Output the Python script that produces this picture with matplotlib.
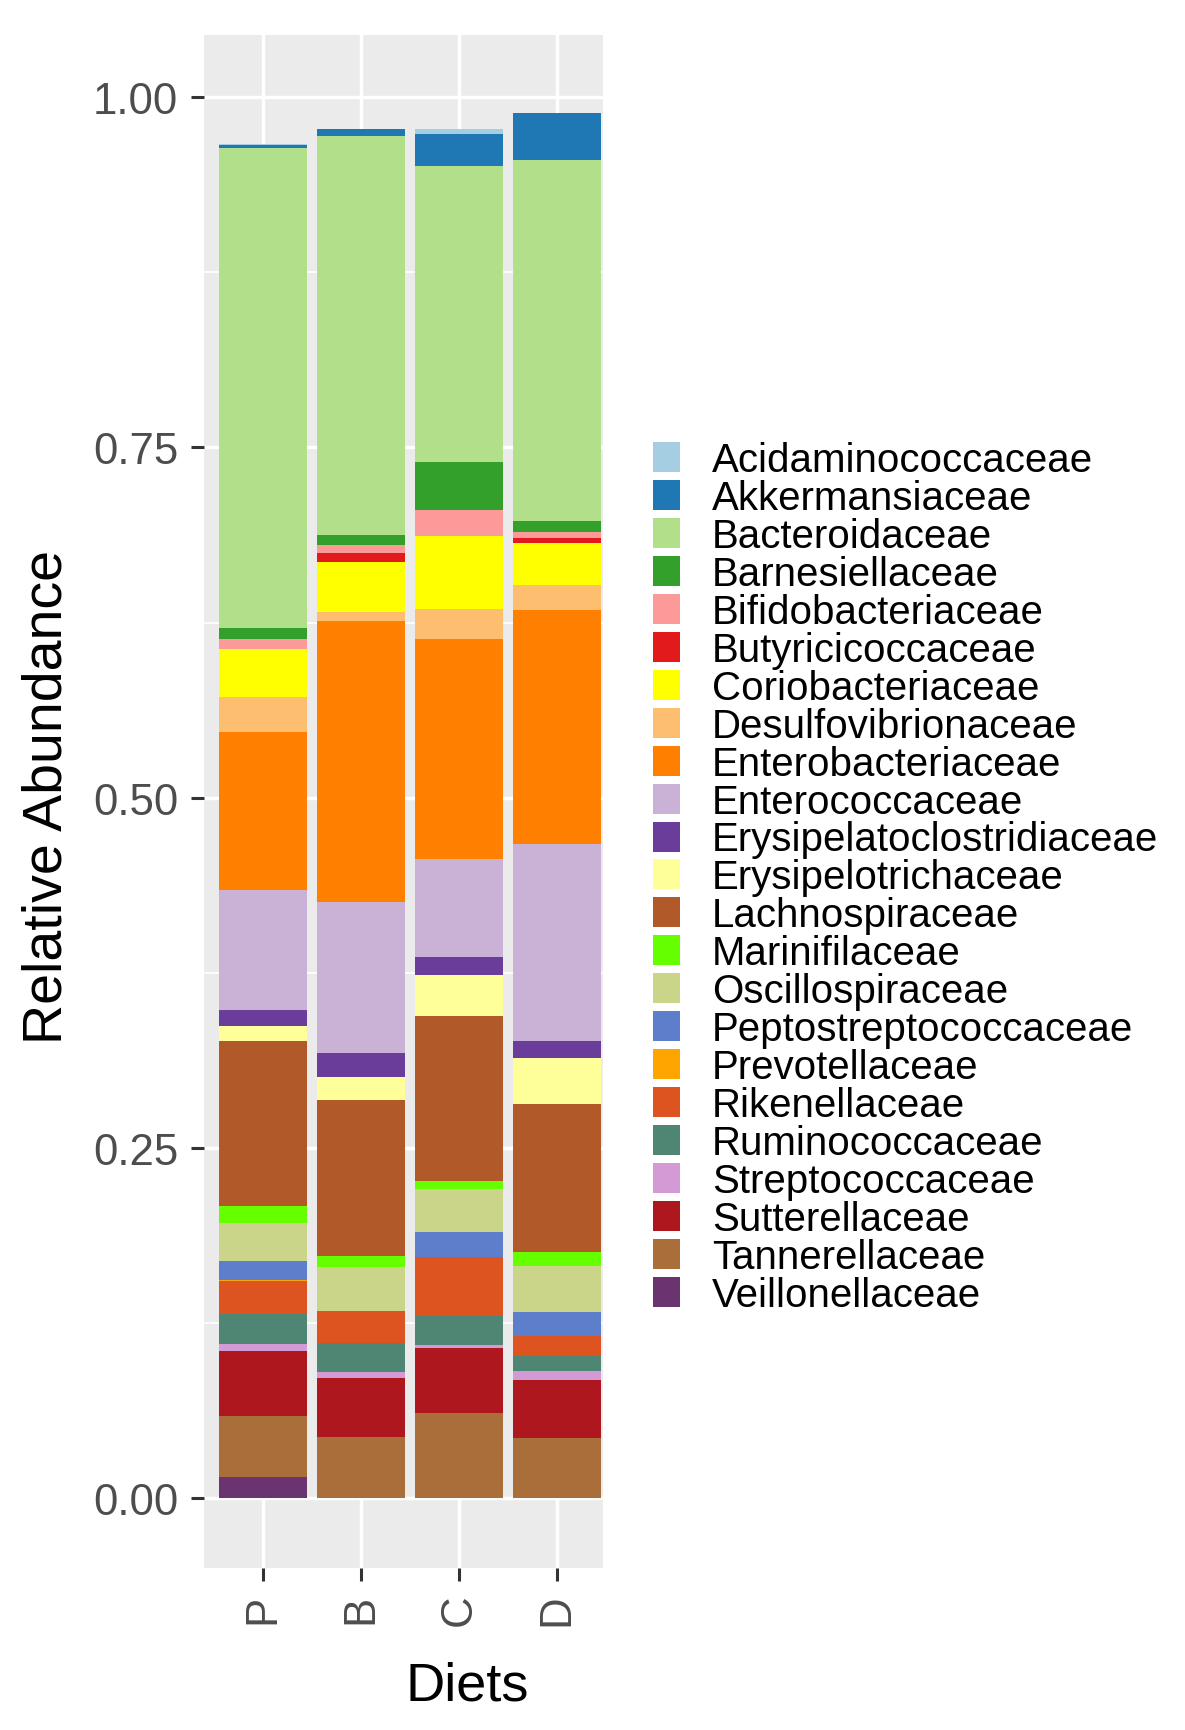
import matplotlib
matplotlib.use("Agg")
import matplotlib.pyplot as plt
from matplotlib.patches import Rectangle
import numpy as np

plt.rcParams['font.family'] = ['Liberation Sans', 'DejaVu Sans']

diets = ["P", "B", "C", "D"]

families = [
    "Acidaminococcaceae", "Akkermansiaceae", "Bacteroidaceae", "Barnesiellaceae",
    "Bifidobacteriaceae", "Butyricicoccaceae", "Coriobacteriaceae", "Desulfovibrionaceae",
    "Enterobacteriaceae", "Enterococcaceae", "Erysipelatoclostridiaceae", "Erysipelotrichaceae",
    "Lachnospiraceae", "Marinifilaceae", "Oscillospiraceae", "Peptostreptococcaceae",
    "Prevotellaceae", "Rikenellaceae", "Ruminococcaceae", "Streptococcaceae",
    "Sutterellaceae", "Tannerellaceae", "Veillonellaceae",
]

colors = [
    "#A6CEE3", "#1F78B4", "#B2DF8A", "#33A02C",
    "#FB9A99", "#E31A1C", "#FFFF00", "#FDBF6F",
    "#FF7F00", "#CAB2D6", "#6A3D9A", "#FFFF99",
    "#B15928", "#66FF00", "#CAD589", "#5C7ECB",
    "#FFA500", "#DE5421", "#4E8673", "#D49AD6",
    "#AE171E", "#AA6E3A", "#6A3470",
]

# relative abundance per diet, same order as families
p_vals = [0.0005, 0.0022, 0.3423, 0.0083, 0.0072, 0.0, 0.0340, 0.0250,
          0.1130, 0.0855, 0.0112, 0.0110, 0.1175, 0.0119, 0.0276, 0.0135,
          0.0004, 0.0238, 0.0214, 0.0048, 0.0468, 0.0431, 0.0154]
b_vals = [0.0, 0.0055, 0.2847, 0.0069, 0.0059, 0.0062, 0.0354, 0.0067,
          0.2005, 0.1075, 0.0171, 0.0167, 0.1113, 0.0076, 0.0321, 0.0,
          0.0, 0.0228, 0.0207, 0.0043, 0.0421, 0.0435, 0.0]
c_vals = [0.0040, 0.0225, 0.2114, 0.0344, 0.0183, 0.0, 0.0519, 0.0219,
          0.1569, 0.0697, 0.0131, 0.0290, 0.1182, 0.0055, 0.0305, 0.0182,
          0.0, 0.0417, 0.0209, 0.0024, 0.0461, 0.0609, 0.0]
d_vals = [0.0, 0.0341, 0.2574, 0.0078, 0.0040, 0.0041, 0.0299, 0.0177,
          0.1671, 0.1404, 0.0125, 0.0327, 0.1053, 0.0100, 0.0333, 0.0171,
          0.0, 0.0143, 0.0103, 0.0066, 0.0412, 0.0432, 0.0]

W, H = 1185, 1731
fig = plt.figure(figsize=(W / 100, H / 100), dpi=100)
ax = fig.add_axes([204 / W, 1 - 1568.7 / H, (603 - 204) / W, (1568.7 - 36) / H])

table = np.array([p_vals, b_vals, c_vals, d_vals]).T
x = np.arange(len(diets))
bottom = np.zeros(len(diets))
# first family ends up on top of the stack, as in ggplot
for i in range(len(families) - 1, -1, -1):
    ax.bar(x, table[i], 0.9, bottom=bottom, color=colors[i], linewidth=0)
    bottom += table[i]

top = bottom.max()
ax.set_ylim(-0.05 * top, 1.056 * top)
ax.set_xlim(-0.6, len(diets) - 0.53)

ax.set_facecolor("#EBEBEB")
for s in ax.spines.values():
    s.set_visible(False)
ax.set_axisbelow(True)
ax.set_yticks([0, 0.25, 0.5, 0.75, 1.0])
ax.set_yticklabels(["0.00", "0.25", "0.50", "0.75", "1.00"])
ax.set_yticks([0.125, 0.375, 0.625, 0.875], minor=True)
ax.set_xticks(x)
ax.set_xticklabels(diets, rotation=90)
ax.grid(which="major", color="white", linewidth=2.5)
ax.grid(which="minor", axis="y", color="white", linewidth=1.2)
ax.tick_params(which="major", length=9.5, width=2.2, color="#333333",
               labelsize=31.5, labelcolor="#4D4D4D", pad=9)
ax.tick_params(which="minor", length=0)

fig.text(48 / W, 1 - 797 / H, "Relative Abundance", rotation=90,
         ha="center", va="center", fontsize=40)
fig.text(467 / W, 1 - 1687 / H, "Diets", ha="center", va="center", fontsize=39)

# legend
for i, name in enumerate(families):
    cy = 458 + 37.95 * i
    fig.patches.append(Rectangle((653 / W, 1 - (cy + 15) / H), 27 / W, 30 / H,
                                 transform=fig.transFigure, facecolor=colors[i],
                                 edgecolor="none"))
    fig.text(712 / W, 1 - (cy + 14) / H, name, ha="left", va="baseline", fontsize=29)

fig.savefig("out.png", dpi=100)
